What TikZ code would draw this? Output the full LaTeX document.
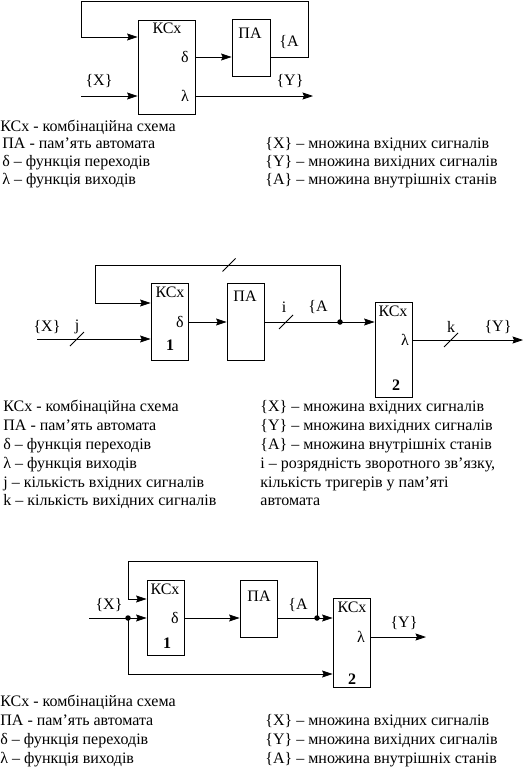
\documentclass[tikz,border=0pt]{standalone}
\usepackage{fontspec}
\setmainfont{Liberation Serif}
\usetikzlibrary{arrows.meta, positioning, calc}

\begin{document}
\begin{tikzpicture}[x=1pt, y=-1pt, line width=0.8pt,
    blk/.style={draw, inner sep=0pt},
    lbl/.style={inner sep=0pt, font=\fontsize{16}{19}\selectfont},
    num/.style={inner sep=0pt, font=\fontsize{16}{19}\selectfont\bfseries},
    txt/.style={lbl, anchor=base west},
    arr/.style={-{Stealth[length=10.5pt, width=7pt, inset=1.5pt]}},
    dot/.style={circle, fill, inner sep=0pt, minimum size=5.5pt}]

    \useasboundingbox (0,0) rectangle (531,768);

    % first scheme
    \node[blk, minimum width=57, minimum height=94] (ksx1) at (166.5,67) {};
    \node[blk, minimum width=38, minimum height=57] (pa1) at (251,47.5) {};
    \node[lbl] (ksx1t) at (167,28) {КСх};
    \node[lbl] (d1) at (185,57) {δ};
    \node[lbl] (l1) at (185,96) {λ};
    \node[lbl] (pa1t) at (250,33) {ПА};
    \node[lbl] (a1) at (289,42) {\{A};
    \node[lbl] (x1) at (99,81) {\{X\}};
    \node[lbl] (y1) at (290,81) {\{Y\}};
    \coordinate (fb1a) at (81,1);
    \coordinate (fb1b) at (308,1);
    \coordinate (fb1c) at (81,37);
    \coordinate (in1) at (81,96);
    \coordinate (out1) at (313,96);

    \draw[arr] (ksx1.east |- d1) -- (pa1.west |- d1);
    \draw[arr] (pa1.east |- d1) -| (fb1b) -- (fb1a) -- (fb1c) -- (fb1c -| ksx1.west);
    \draw[arr] (in1) -- (in1 -| ksx1.west);
    \draw[arr] (ksx1.east |- l1) -- (out1);

    \node[txt] (k1) at (0,131) {КСх - комбінаційна схема};
    \node[txt] (p1) at (2,148) {ПА - пам’ять автомата};
    \node[txt] (dd1) at (2,166) {δ – функція переходів};
    \node[txt] (ll1) at (2,184) {λ – функція виходів};
    \node[txt] (xx1) at (265,148) {\{X\} – множина вхідних сигналів};
    \node[txt] (yy1) at (265,166) {\{Y\} – множина вихідних сигналів};
    \node[txt] (aa1) at (265,184) {\{A\} – множина внутрішніх станів};

    % second scheme
    \node[blk, minimum width=37, minimum height=77] (ksx2a) at (169.5,321.5) {};
    \node[blk, minimum width=37, minimum height=77] (pa2) at (245.5,321.5) {};
    \node[blk, minimum width=37, minimum height=95] (ksx2b) at (393.5,349.5) {};
    \node[lbl] (ksx2at) at (170,292) {КСх};
    \node[lbl] (d2) at (180,322) {δ};
    \node[num] (n2a) at (170,345) {1};
    \node[lbl] (pa2t) at (245,296) {ПА};
    \node[lbl] (i2) at (284,307) {i};
    \node[lbl] (a2) at (318,307) {\{A};
    \node[lbl] (ksx2bt) at (393,311) {КСх};
    \node[lbl] (l2) at (405,340) {λ};
    \node[num] (n2b) at (396,385) {2};
    \node[lbl] (k2) at (451,327) {k};
    \node[lbl] (y2) at (498,327) {\{Y\}};
    \node[lbl] (x2) at (47,327) {\{X\}};
    \node[lbl] (j2) at (77,327) {j};
    \node[dot] (dot2) at (340,322) {};
    \coordinate (fb2a) at (95,265);
    \coordinate (fb2b) at (340,265);
    \coordinate (fb2c) at (95,303);
    \coordinate (in2) at (37,339);
    \coordinate (out2) at (523,340);

    \draw[arr] (ksx2a.east |- d2) -- (pa2.west |- d2);
    \draw (pa2.east |- d2) -- (dot2.center);
    \draw[arr] (dot2.center) -- (ksx2b.west |- dot2);
    \draw[arr] (dot2.center) -- (fb2b) -- (fb2a) -- (fb2c) -- (fb2c -| ksx2a.west);
    \draw[arr] (in2) -- (in2 -| ksx2a.west);
    \draw[arr] (ksx2b.east |- l2) -- (out2);
    % bus marks
    \draw (229,265) ++(-6.5,6.5) -- ++(13,-13);
    \draw (77,339) ++(-7,7) -- ++(14,-14);
    \draw (286,322) ++(-7,7) -- ++(14,-14);
    \draw (451,340) ++(-7,7) -- ++(14,-14);

    \node[txt] (k2l) at (3,411) {КСх - комбінаційна схема};
    \node[txt] (p2l) at (3,430) {ПА - пам’ять автомата};
    \node[txt] (d2l) at (3,449) {δ – функція переходів};
    \node[txt] (l2l) at (3,468) {λ – функція виходів};
    \node[txt] (j2l) at (3,487) {j – кількість вхідних сигналів};
    \node[txt] (k2k) at (3,505.5) {k – кількість вихідних сигналів};
    \node[txt] (x2l) at (260,411) {\{X\} – множина вхідних сигналів};
    \node[txt] (y2l) at (260,430) {\{Y\} – множина вихідних сигналів};
    \node[txt] (a2l) at (260,449) {\{A\} – множина внутрішніх станів};
    \node[txt] (i2l) at (260,468) {i – розрядність зворотного зв’язку,};
    \node[txt] (t2l) at (260,487) {кількість тригерів у пам’яті};
    \node[txt] (m2l) at (260,505.5) {автомата};

    % third scheme
    \node[blk, minimum width=37, minimum height=75] (ksx3a) at (165.5,617.5) {};
    \node[blk, minimum width=37, minimum height=57] (pa3) at (258.5,608.5) {};
    \node[blk, minimum width=37, minimum height=89] (ksx3b) at (351.5,642.5) {};
    \node[lbl] (ksx3at) at (165,589) {КСх};
    \node[lbl] (d3) at (175,618) {δ};
    \node[num] (n3a) at (167,643) {1};
    \node[lbl] (pa3t) at (259,596) {ПА};
    \node[lbl] (a3) at (298,605) {\{A};
    \node[lbl] (x3) at (109,605) {\{X\}};
    \node[lbl] (ksx3bt) at (352,607) {КСх};
    \node[lbl] (l3) at (361,637) {λ};
    \node[num] (n3b) at (352,679) {2};
    \node[lbl] (y3) at (404,623) {\{Y\}};
    \node[dot] (dot3a) at (128,618) {};
    \node[dot] (dot3b) at (317,618) {};
    \coordinate (fb3a) at (128,561);
    \coordinate (fb3b) at (317,561);
    \coordinate (fb3c) at (128,599);
    \coordinate (in3) at (89,618);
    \coordinate (lo3) at (128,674);
    \coordinate (out3) at (426,637);

    \draw[arr] (in3) -- (in3 -| ksx3a.west);
    \draw[arr] (ksx3a.east |- d3) -- (pa3.west |- d3);
    \draw (pa3.east |- d3) -- (dot3b.center);
    \draw[arr] (dot3b.center) -- (ksx3b.west |- dot3b);
    \draw[arr] (dot3b.center) -- (fb3b) -- (fb3a) -- (fb3c) -- (fb3c -| ksx3a.west);
    \draw[arr] (dot3a.center) -- (lo3) -- (lo3 -| ksx3b.west);
    \draw[arr] (ksx3b.east |- l3) -- (out3);

    \node[txt] (k3l) at (0,706.5) {КСх - комбінаційна схема};
    \node[txt] (p3l) at (0,725.5) {ПА - пам’ять автомата};
    \node[txt] (d3l) at (0,744.5) {δ – функція переходів};
    \node[txt] (l3l) at (0,763.5) {λ – функція виходів};
    \node[txt] (x3l) at (265,725.5) {\{X\} – множина вхідних сигналів};
    \node[txt] (y3l) at (265,744.5) {\{Y\} – множина вихідних сигналів};
    \node[txt] (a3l) at (265,763.5) {\{A\} – множина внутрішніх станів};
\end{tikzpicture}
\end{document}
